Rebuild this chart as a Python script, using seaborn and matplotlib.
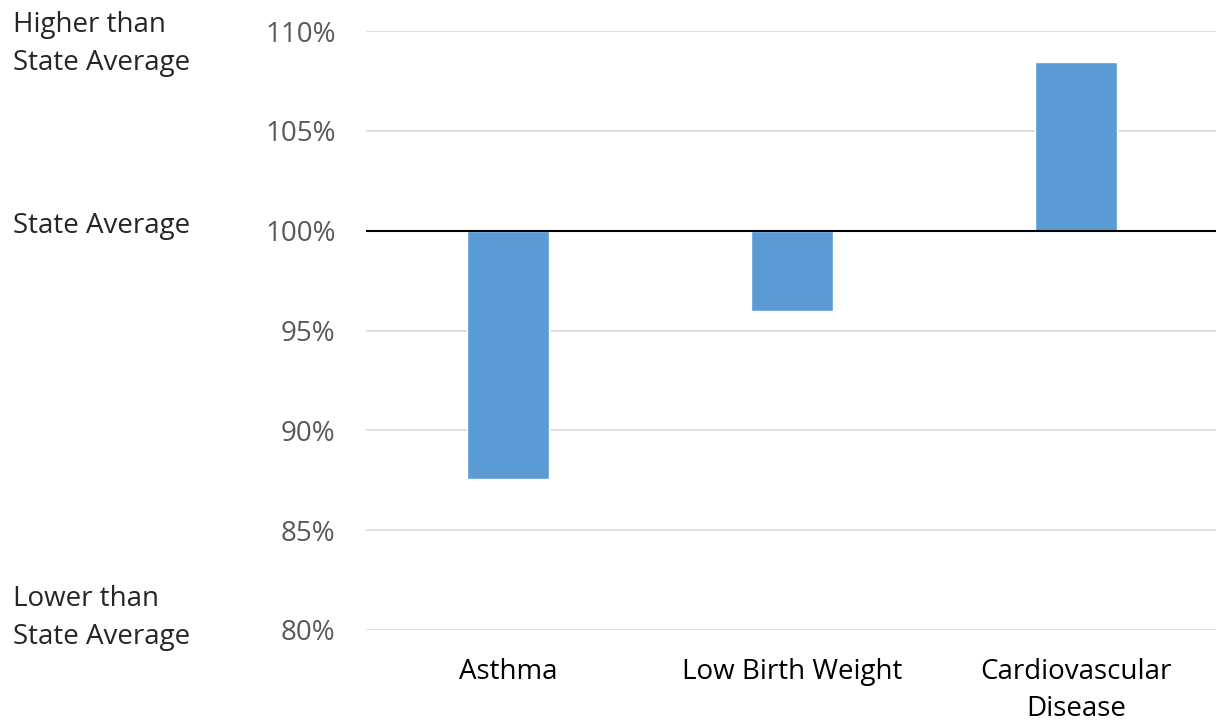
import matplotlib
matplotlib.use("Agg")
import pandas as pd
import seaborn as sns
import matplotlib.pyplot as plt
from matplotlib.ticker import FuncFormatter

categories = ["Asthma", "Low Birth Weight", "Cardiovascular\nDisease"]
pct_of_state = [87.55, 96.0, 108.45]  # percent of state average
baseline = 100

df = pd.DataFrame({"condition": categories,
                   "diff": [v - baseline for v in pct_of_state]})

sns.set_style("white")
plt.rcParams["font.family"] = ["Open Sans", "DejaVu Sans"]

fig = plt.figure(figsize=(12.16, 7.25), dpi=100)
ax = fig.add_axes([366 / 1216, 95 / 725, 852 / 1216, 599 / 725])

ax.set_ylim(-20, 10)
ax.set_yticks(range(-20, 11, 5))
ax.yaxis.grid(True, color="#D9D9D9", linewidth=1.2)
ax.set_axisbelow(True)

sns.barplot(data=df, x="condition", y="diff", color="#5B9BD5",
            saturation=1, width=0.29, ax=ax)
ax.axhline(0, color="black", linewidth=1.5)

fs = 20
ax.yaxis.set_major_formatter(FuncFormatter(lambda v, p: f"{baseline + v:.0f}%"))
ax.tick_params(axis="y", labelsize=fs, labelcolor="#595959", length=0, pad=22)
ax.tick_params(axis="x", labelsize=fs, labelcolor="black", length=0, pad=20)
for lbl in ax.get_xticklabels():
    lbl.set_linespacing(1.45)
ax.set_xlabel("")
ax.set_ylabel("")
ax.set_xlim(-0.5, 2.5)
sns.despine(ax=ax, left=True, bottom=True)

fig.text(13 / 1216, 1 - 44 / 725, "Higher than\nState Average", fontsize=fs,
         va="center", ha="left", linespacing=1.45)
fig.text(13 / 1216, 1 - 226 / 725, "State Average", fontsize=fs,
         va="center", ha="left")
fig.text(13 / 1216, 1 - 618 / 725, "Lower than\nState Average", fontsize=fs,
         va="center", ha="left", linespacing=1.45)

fig.savefig("out.png", dpi=100)
